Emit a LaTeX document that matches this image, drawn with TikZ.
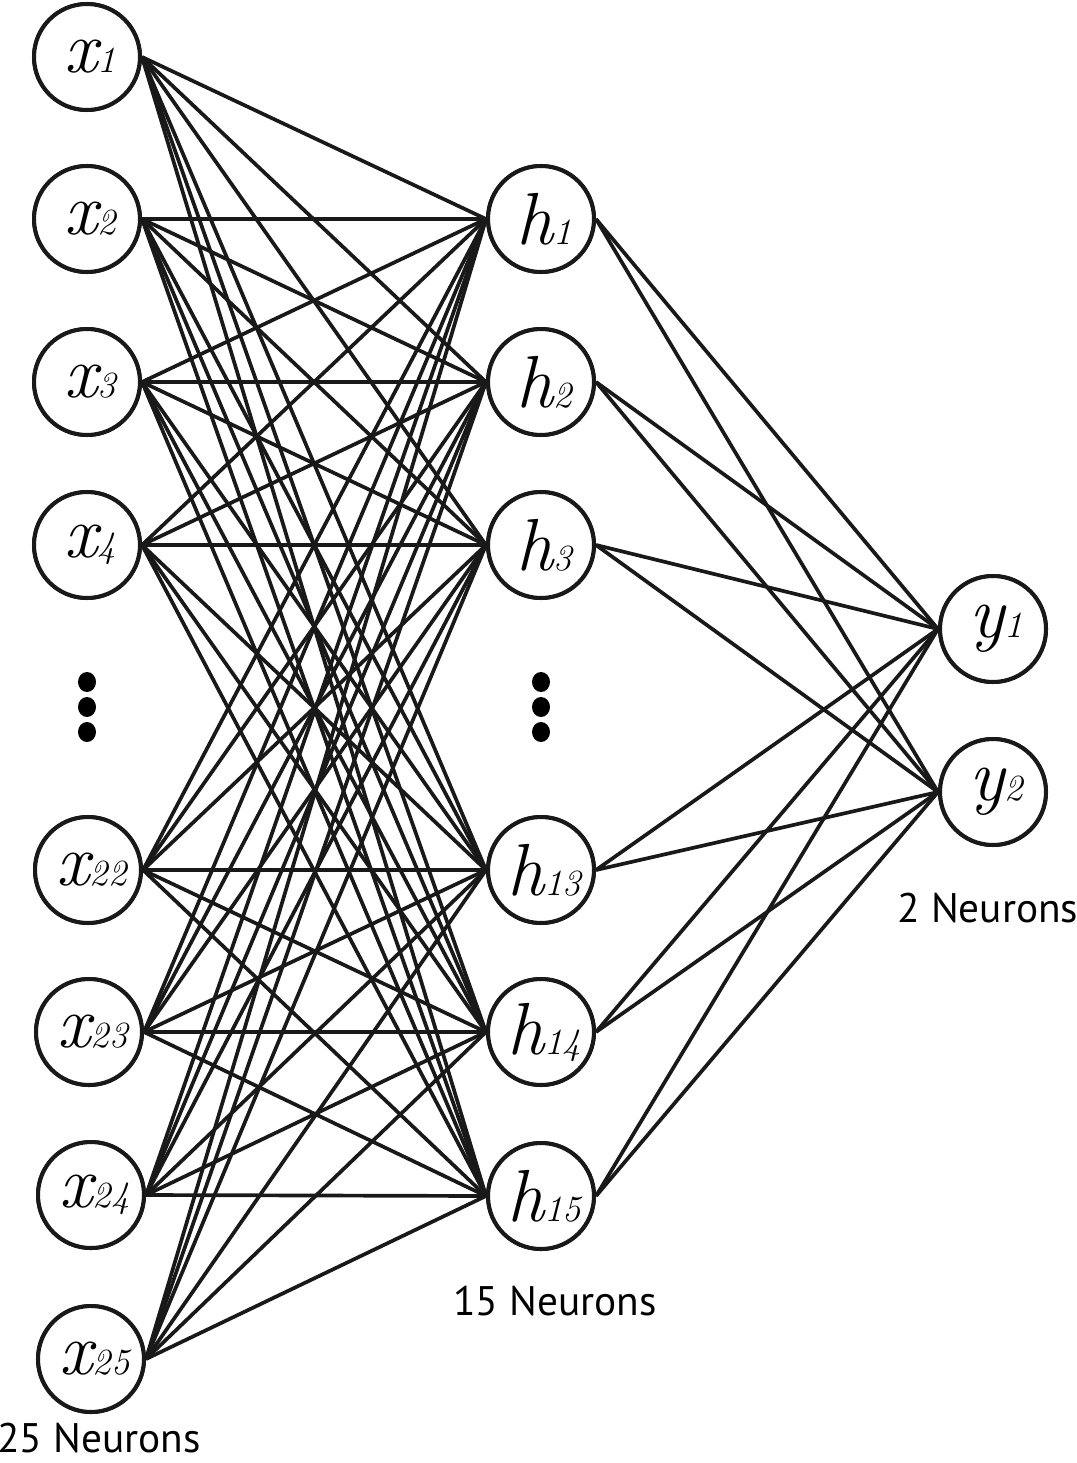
\documentclass[tikz,border=0pt]{standalone}
\usepackage{fontspec}
\setsansfont{PT Sans}
\begin{document}
\begin{tikzpicture}[x=0.02cm,y=-0.02cm,
  neuron/.style={circle,draw=black!90,line width=2.3pt,minimum size=2.12cm,inner sep=0pt,fill=white},
  wire/.style={draw=black!90,line width=2.1pt},
  dotmark/.style={fill=black},
  caption/.style={font=\sffamily\fontsize{23.5}{23.5}\selectfont,anchor=base,inner sep=0pt}]
\newcommand{\nlab}[2]{\hspace*{4pt}{\fontsize{42}{42}\selectfont\itshape #1}{\fontsize{21}{21}\selectfont\itshape #2}}
\useasboundingbox (0,0) rectangle (1077,1463);

% input layer
\foreach \n/\yy/\xx in {1/57/87,2/219/87,3/382/87,4/545/87,22/870/88,23/1032/89,24/1195/91,25/1359/91}
  \node[neuron] (x\n) at (\xx,\yy) {\nlab{x}{\n}};
% hidden layer
\foreach \n/\yy in {1/219,2/382,3/545,13/870,14/1032,15/1196}
  \node[neuron] (h\n) at (541,\yy) {\nlab{h}{\n}};
% output layer
\foreach \n/\yy in {1/629,2/792}
  \node[neuron] (y\n) at (993,\yy) {\nlab{y}{\n}};

% connections input -> hidden
\foreach \i in {1,2,3,4,22,23,24,25}
  \foreach \j in {1,2,3,13,14,15}
    \draw[wire] (x\i.east) -- (h\j.west);
% connections hidden -> output
\foreach \j in {1,2,3,13,14,15}
  \foreach \k in {1,2}
    \draw[wire] (h\j.east) -- (y\k.west);

% redraw neurons above the wires
\foreach \n in {1,2,3,4,22,23,24,25}
  \node[neuron] at (x\n) {\nlab{x}{\n}};
\foreach \n in {1,2,3,13,14,15}
  \node[neuron] at (h\n) {\nlab{h}{\n}};
\foreach \n in {1,2}
  \node[neuron] at (y\n) {\nlab{y}{\n}};

% ellipsis dots
\foreach \xx in {87,541}
  \foreach \yy in {682,707,732}
    \fill[dotmark] (\xx,\yy) ellipse [x radius=9, y radius=10];

% layer captions
\node[caption] (c1) at (99,1452) {25 Neurons};
\node[caption] (c2) at (555,1315) {15 Neurons};
\node[caption] (c3) at (988,922) {2 Neurons};
\end{tikzpicture}
\end{document}
